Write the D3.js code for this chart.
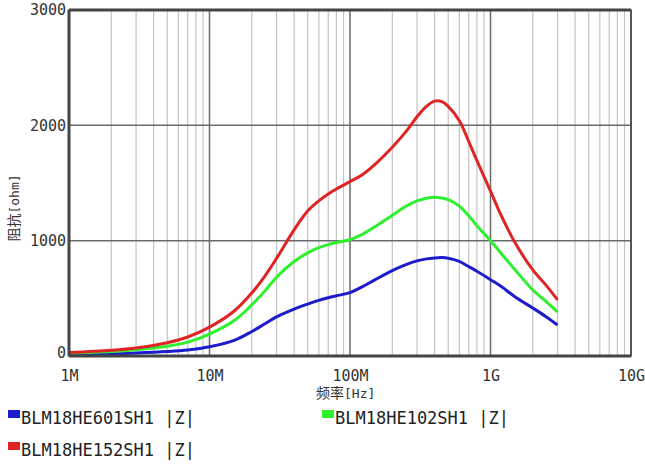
<!DOCTYPE html>
<html><head><meta charset="utf-8">
<script src="https://cdn.jsdelivr.net/npm/d3@7"></script>
<style>body{margin:0;background:#fff}svg{display:block}</style>
</head><body>
<svg id="c" width="645" height="468"></svg>
<script>
const freqs = [1e6,2e6,3e6,5e6,7e6,1e7,1.5e7,2e7,2.5e7,3e7,4e7,5e7,6e7,7e7,8e7,1e8,1.2e8,1.5e8,2e8,2.5e8,3e8,3.5e8,4e8,4.5e8,5e8,6e8,7e8,8e8,1e9,1.2e9,1.5e9,2e9,2.5e9,3e9];
const z601 = [10,18,25,38,52,80,136,212,282,339,407,450,482,505,522,549,595,660,740,792,825,842,850,853,848,820,775,735,662,600,512,416,339,269];
const z102 = [25,40,55,85,120,190,307,444,569,683,819,894,940,966,984,1008,1050,1120,1220,1298,1345,1368,1376,1370,1355,1300,1215,1130,1000,885,746,572,470,382];
const z152 = [30,50,70,115,165,250,390,547,700,846,1094,1257,1345,1405,1448,1512,1565,1660,1810,1945,2075,2165,2210,2205,2165,2040,1860,1695,1430,1210,980,746,610,486];
const seriesNames = ["BLM18HE601SH1 |Z|","BLM18HE102SH1 |Z|","BLM18HE152SH1 |Z|"];
const seriesColors = ["#1c1ccc","#2ef02e","#e02424"];
const xTicks = [1e6,1e7,1e8,1e9,1e10];
const xTickLabels = ["1M","10M","100M","1G","10G"];
const yTicks = [0,1000,2000,3000];

const svg = d3.select("#c");
const L=69,R=631,T=10,B=356;
const x = d3.scaleLog().domain([1e6,1e10]).range([L,R]);
const y = d3.scaleLinear().domain([0,3000]).range([B,T]);
const mono = "'DejaVu Sans Mono','Liberation Mono',monospace";

// minor grid
const minor=[];
for(let d=6; d<10; d++) for(let k=2;k<=9;k++) minor.push(k*Math.pow(10,d));
svg.append("g").selectAll("line").data(minor).join("line")
  .attr("x1",d=>x(d)).attr("x2",d=>x(d)).attr("y1",T).attr("y2",B)
  .attr("stroke","#c4c4c4").attr("stroke-width",1.2);
// major grid
svg.append("g").selectAll("line").data(xTicks).join("line")
  .attr("x1",d=>x(d)).attr("x2",d=>x(d)).attr("y1",T).attr("y2",B)
  .attr("stroke","#6a6a6a").attr("stroke-width",1.5);
svg.append("g").selectAll("line").data(yTicks).join("line")
  .attr("x1",L).attr("x2",R).attr("y1",d=>y(d)).attr("y2",d=>y(d))
  .attr("stroke","#6a6a6a").attr("stroke-width",1.5);

// series
const data=[z601,z102,z152];
const line = d3.line().x((d,i)=>x(freqs[i])).y(d=>y(d)).curve(d3.curveCatmullRom.alpha(0.5));
data.forEach((s,i)=>{
  svg.append("path").datum(s).attr("d",line).attr("fill","none")
    .attr("stroke",seriesColors[i]).attr("stroke-width",3);
});

// frame
svg.append("rect").attr("x",L).attr("y",T).attr("width",R-L).attr("height",B-T)
  .attr("fill","none").attr("stroke","#444").attr("stroke-width",1.5);
svg.append("line").attr("x1",L).attr("x2",L).attr("y1",T).attr("y2",B).attr("stroke","#444").attr("stroke-width",3);
svg.append("line").attr("x1",L).attr("x2",R).attr("y1",B).attr("y2",B).attr("stroke","#444").attr("stroke-width",3);
svg.append("line").attr("x1",L).attr("x2",R).attr("y1",T).attr("y2",T).attr("stroke","#444").attr("stroke-width",3);

// axes labels via d3 axes
const xAxis = d3.axisBottom(x).tickValues(xTicks).tickFormat((d,i)=>xTickLabels[i]).tickSize(0).tickPadding(0);
const gx = svg.append("g").attr("transform",`translate(0,${B+25})`).call(xAxis);
gx.select(".domain").remove();
gx.selectAll("text").attr("font-family",mono).attr("font-size",15).attr("fill","#333").attr("dy","0");
const yAxis = d3.axisLeft(y).tickValues(yTicks).tickFormat(d3.format("d")).tickSize(0).tickPadding(3);
const gy = svg.append("g").attr("transform",`translate(${L},0)`).call(yAxis);
gy.select(".domain").remove();
gy.selectAll("text").attr("font-family",mono).attr("font-size",15).attr("fill","#333");
gy.selectAll(".tick").filter(d=>d===0).select("text").attr("dy","0.1em");

// axis titles
const xt = svg.append("text").attr("x",316).attr("y",398).attr("font-family","'Noto Sans CJK SC',sans-serif").attr("fill","#333");
xt.append("tspan").attr("font-size",14).text("频率");
xt.append("tspan").attr("font-size",13).attr("font-family",mono).text("[Hz]");
const yt = svg.append("text").attr("transform","translate(19,208) rotate(-90)").attr("text-anchor","middle")
  .attr("font-family","'Noto Sans CJK SC',sans-serif").attr("fill","#333");
yt.append("tspan").attr("font-size",14).text("阻抗");
yt.append("tspan").attr("font-size",13).attr("font-family",mono).text("[ohm]");

// legend
const legPos=[[8,418],[322,418],[8,450]];
seriesNames.forEach((n,i)=>{
  const [lx,ly]=legPos[i];
  svg.append("rect").attr("x",lx).attr("y",ly-8).attr("width",12).attr("height",8).attr("fill",seriesColors[i]);
  svg.append("text").attr("x",lx+13).attr("y",ly+6).attr("font-family",mono).attr("font-size",17)
    .attr("fill","#222").text(n);
});
</script>
</body></html>
